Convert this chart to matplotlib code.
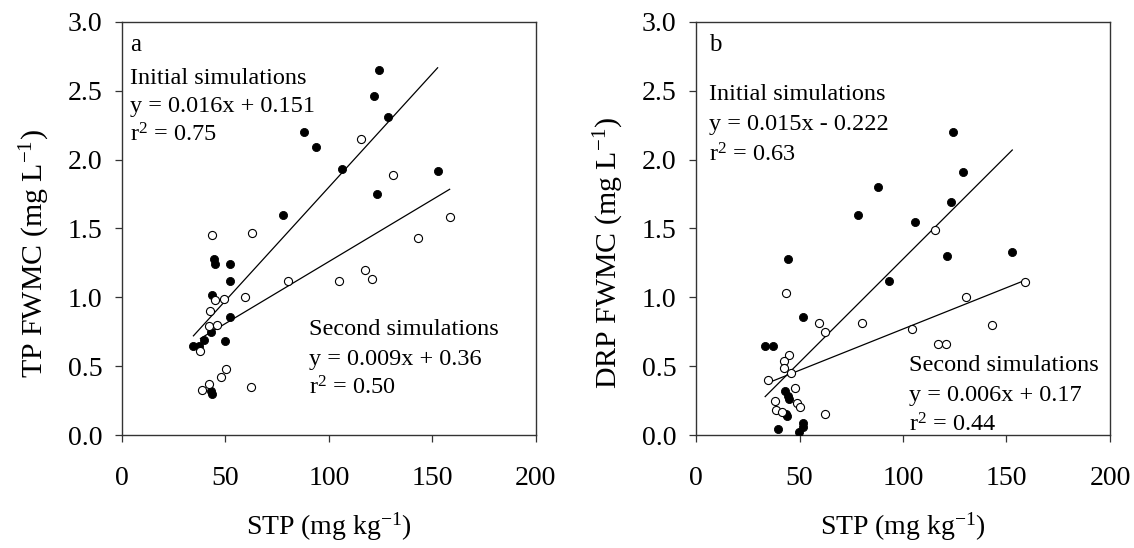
import matplotlib
matplotlib.use("Agg")
import matplotlib.pyplot as plt
import numpy as np

plt.rcParams['font.family'] = ['Liberation Serif', 'DejaVu Serif']
plt.rcParams['mathtext.fontset'] = 'custom'
plt.rcParams['mathtext.rm'] = 'Liberation Serif'
plt.rcParams['mathtext.it'] = 'Liberation Serif:italic'

# ---- Panel a: TP FWMC ----
a_init_x = [124.2, 121.6, 128.7, 87.8, 93.7, 106.2, 123.1, 77.9, 152.5, 44.5, 45.0,
            52.3, 52.1, 43.6, 52.1, 43.1, 39.8, 34.5, 37.3, 50.0, 43.1, 43.5]
a_init_y = [2.65, 2.46, 2.31, 2.20, 2.09, 1.93, 1.75, 1.60, 1.92, 1.28, 1.24,
            1.24, 1.12, 1.02, 0.86, 0.75, 0.69, 0.65, 0.65, 0.68, 0.32, 0.30]
a_sec_x = [115.7, 130.7, 43.7, 62.6, 158.3, 142.8, 80.3, 104.7, 117.3, 120.8, 45.0,
           49.5, 59.4, 42.4, 42.1, 45.8, 37.9, 50.2, 47.9, 41.9, 38.6, 62.3]
a_sec_y = [2.15, 1.89, 1.45, 1.47, 1.58, 1.43, 1.12, 1.12, 1.20, 1.13, 0.98,
           0.99, 1.00, 0.90, 0.79, 0.80, 0.61, 0.48, 0.42, 0.37, 0.33, 0.35]

# ---- Panel b: DRP FWMC ----
b_init_x = [124.2, 128.8, 87.8, 78.1, 106.0, 123.3, 44.2, 121.2, 93.4, 51.9, 33.4,
            37.1, 43.0, 44.5, 44.7, 43.3, 44.0, 39.5, 49.7, 51.9, 51.9, 152.8]
b_init_y = [2.20, 1.91, 1.80, 1.60, 1.55, 1.69, 1.28, 1.30, 1.12, 0.86, 0.65,
            0.65, 0.32, 0.28, 0.26, 0.15, 0.14, 0.04, 0.02, 0.085, 0.06, 1.33]
b_sec_x = [115.3, 158.8, 130.5, 142.8, 104.5, 43.4, 59.4, 62.3, 80.0, 117.1, 120.7,
           44.7, 42.3, 42.3, 46.0, 34.6, 48.0, 38.0, 49.0, 50.0, 38.6, 41.6, 62.1]
b_sec_y = [1.49, 1.11, 1.00, 0.80, 0.77, 1.03, 0.81, 0.75, 0.81, 0.66, 0.66,
           0.58, 0.54, 0.49, 0.45, 0.40, 0.345, 0.25, 0.23, 0.205, 0.18, 0.17, 0.15]

# regression lines (slope, intercept) as drawn
a_init_fit = (0.0165, 0.151)
a_sec_fit = (0.009, 0.36)
b_init_fit = (0.015, -0.222)
b_sec_fit = (0.006, 0.17)

x_ticks = [0, 50, 100, 150, 200]
y_ticks = [0.0, 0.5, 1.0, 1.5, 2.0, 2.5, 3.0]

panels = [
    dict(letter='a', ylabel='TP FWMC (mg L$^{-1}$)',
         init=(a_init_x, a_init_y, a_init_fit), sec=(a_sec_x, a_sec_y, a_sec_fit),
         init_txt=['Initial simulations', 'y = 0.016x + 0.151', 'r$^{2}$ = 0.75'],
         sec_txt=['Second simulations', 'y = 0.009x + 0.36', 'r$^{2}$ = 0.50'],
         init_pos=(4.0, [2.593, 2.389, 2.179]), sec_pos=(90.5, [0.763, 0.545, 0.341]),
         letter_pos=(4.0, 2.83)),
    dict(letter='b', ylabel='DRP FWMC (mg L$^{-1}$)',
         init=(b_init_x, b_init_y, b_init_fit), sec=(b_sec_x, b_sec_y, b_sec_fit),
         init_txt=['Initial simulations', 'y = 0.015x - 0.222', 'r$^{2}$ = 0.63'],
         sec_txt=['Second simulations', 'y = 0.006x + 0.17', 'r$^{2}$ = 0.44'],
         init_pos=(6.3, [2.473, 2.255, 2.037]), sec_pos=(103.1, [0.505, 0.287, 0.076]),
         letter_pos=(6.3, 2.83)),
]

fig = plt.figure(figsize=(11.34, 5.48), dpi=100)
lefts = [0.1076, 0.6138]
for left, p in zip(lefts, panels):
    ax = fig.add_axes([left, 0.2062, 0.365, 0.7537])
    ax.set_xlim(0, 200)
    ax.set_ylim(0, 3.0)
    for key, filled in (('init', True), ('sec', False)):
        xs, ys, (m, c) = p[key]
        xr = np.array([min(xs), max(xs)])
        ax.plot(xr, m * xr + c, color='black', lw=0.9, zorder=2)
        if filled:
            ax.scatter(xs, ys, s=34, c='black', edgecolors='black', linewidths=0.6, zorder=3)
        else:
            ax.scatter(xs, ys, s=34, c='white', edgecolors='black', linewidths=0.8, zorder=3)
    ax.set_xticks(x_ticks)
    ax.set_yticks(y_ticks)
    ax.set_yticklabels([f'{v:.1f}' for v in y_ticks])
    ax.tick_params(axis='both', direction='out', length=5, width=0.9, color='#333333',
                   labelsize=20)
    ax.tick_params(axis='x', pad=17)
    ax.tick_params(axis='y', pad=9)
    for sp in ax.spines.values():
        sp.set_linewidth(1.0)
        sp.set_color('#333333')
    ax.set_xlabel('STP (mg kg$^{-1}$)', fontsize=20, va='center')
    ax.xaxis.set_label_coords(0.5, -0.223)
    ax.set_ylabel(p['ylabel'], fontsize=21.5, va='center')
    ax.yaxis.set_label_coords(-0.21, 0.44)
    ax.text(p['letter_pos'][0], p['letter_pos'][1], p['letter'], fontsize=18, va='center', ha='left')
    x0, yl = p['init_pos']
    for t, yy in zip(p['init_txt'], yl):
        ax.text(x0, yy, t, fontsize=17.5, va='center', ha='left')
    x0, yl = p['sec_pos']
    for t, yy in zip(p['sec_txt'], yl):
        ax.text(x0, yy, t, fontsize=17.5, va='center', ha='left')

fig.savefig('out.png', dpi=100)
